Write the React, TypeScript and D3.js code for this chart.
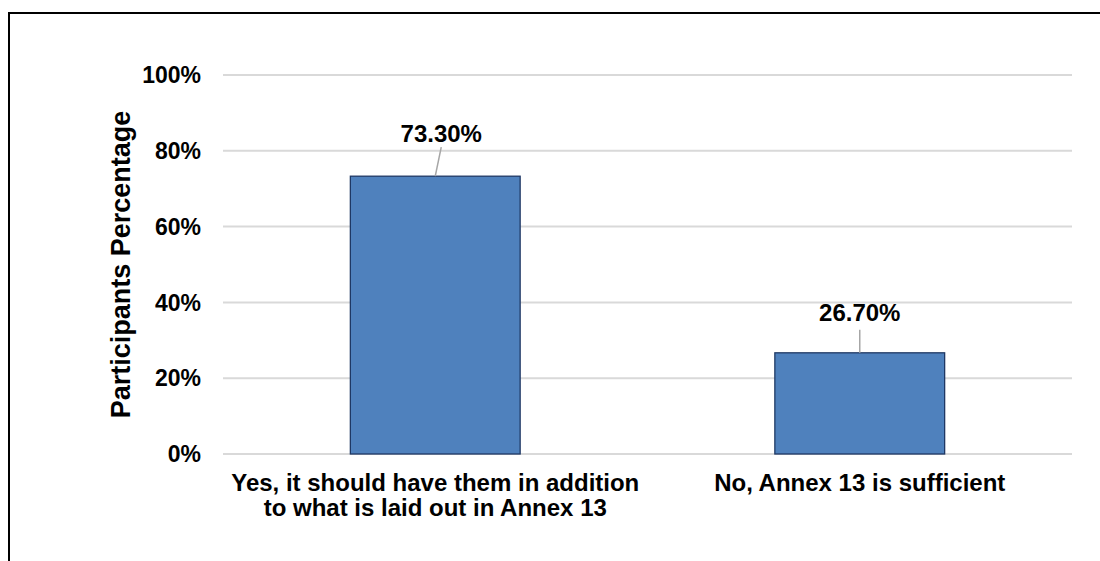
import React from "react";
import * as d3 from "d3";

const categories = ["Yes, it should have them in addition|to what is laid out in Annex 13", "No, Annex 13 is sufficient"];
const values = [73.3, 26.7];
const valueLabels = ["73.30%", "26.70%"];
const yTicks = [0, 20, 40, 60, 80, 100];

export default function App() {
  const W = 1100, H = 561;
  const left = 223, right = 1072, top = 75, bottom = 454;
  const x = d3.scaleBand<string>().domain(categories).range([left, right]).paddingInner(0.6).paddingOuter(0.3);
  const y = d3.scaleLinear().domain([0, 100]).range([bottom, top]);
  const font = "'Liberation Sans', Arial, sans-serif";
  const labelOffsets = [{ dx: 6, dy: -43, lineX: 6, lineLen: 29 }, { dx: 0, dy: -40, lineX: 0, lineLen: 23 }];
  return (
    <svg width={W} height={H} style={{ position: "absolute", left: 0, top: 0 }} fontFamily={font} fontWeight="bold">
      <rect x={0} y={0} width={W} height={H} fill="#fff" />
      <rect x={9} y={13} width={W + 20} height={H + 20} fill="none" stroke="#000" strokeWidth={2} />
      {yTicks.map((t) => (
        <g key={t}>
          <line x1={left} x2={right} y1={y(t)} y2={y(t)} stroke="#d9d9d9" strokeWidth={2} />
          <text x={201} y={y(t)} dy="0.36em" textAnchor="end" fontSize={23} fill="#000">{t}%</text>
        </g>
      ))}
      <text transform={`translate(120, ${(top + bottom) / 2}) rotate(-90)`} textAnchor="middle" fontSize={27} dy="0.36em">Participants Percentage</text>
      {categories.map((c, i) => {
        const bx = x(c)!;
        const bw = x.bandwidth();
        const cx = bx + bw / 2;
        const yt = y(values[i]);
        const lo = labelOffsets[i];
        return (
          <g key={c}>
            <rect x={bx} y={yt} width={bw} height={bottom - yt} fill="#4F81BD" stroke="#1F3864" strokeWidth={1.3} />
            <line x1={cx + lo.lineX} y1={yt - lo.lineLen} x2={cx} y2={yt} stroke="#a6a6a6" strokeWidth={1.5} />
            <text x={cx + lo.dx} y={yt + lo.dy} textAnchor="middle" fontSize={24} dy="0.36em">{valueLabels[i]}</text>
            {c.split("|").map((ln, j) => (
              <text key={j} x={cx} y={482 + j * 25} textAnchor="middle" fontSize={24} dy="0.36em">{ln}</text>
            ))}
          </g>
        );
      })}
    </svg>
  );
}
